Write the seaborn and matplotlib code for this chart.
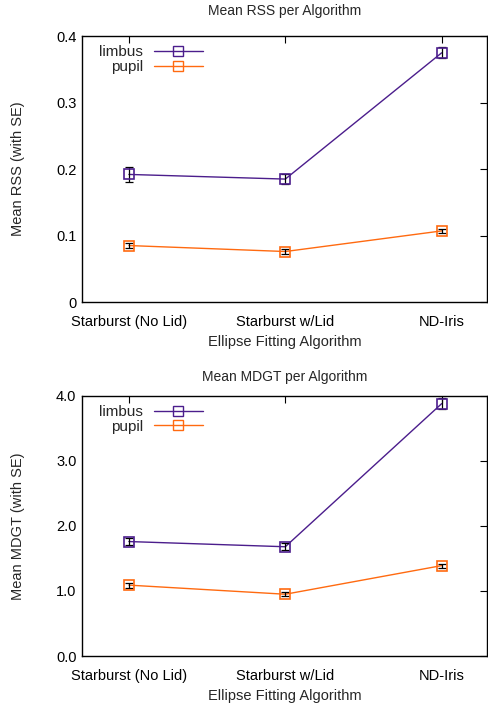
import numpy as np
import pandas as pd
import matplotlib
matplotlib.use("Agg")
import matplotlib.pyplot as plt
import seaborn as sns

# data
algorithms = ["Starburst (No Lid)", "Starburst w/Lid", "ND-Iris"]
series = ["limbus", "pupil"]

rss_limbus = [0.192, 0.185, 0.375]
rss_limbus_se = [0.011, 0.008, 0.008]
rss_pupil = [0.085, 0.076, 0.107]
rss_pupil_se = [0.004, 0.004, 0.003]

mdgt_limbus = [1.76, 1.68, 3.88]
mdgt_limbus_se = [0.05, 0.05, 0.08]
mdgt_pupil = [1.09, 0.95, 1.39]
mdgt_pupil_se = [0.04, 0.03, 0.03]

colors = {"limbus": "#4b1d8c", "pupil": "#ff6a10"}

sns.set_theme(style="white")
plt.rcParams["font.family"] = ["Liberation Sans", "DejaVu Sans"]
plt.rcParams["font.size"] = 10


def make_frame(limbus, limbus_se, pupil, pupil_se):
    rows = []
    for name, vals, ses in [("limbus", limbus, limbus_se), ("pupil", pupil, pupil_se)]:
        for i, alg in enumerate(algorithms):
            rows.append({"pos": i, "algorithm": alg, "series": name, "mean": vals[i], "se": ses[i]})
    return pd.DataFrame(rows)


def draw_panel(ax, df, title, ylabel, ymax, yfmt, title_pad):
    sns.lineplot(data=df, x="pos", y="mean", hue="series", palette=colors,
                 linewidth=1.0, ax=ax, legend=False)
    for name in series:
        sub = df[df["series"] == name]
        ax.errorbar(sub["pos"], sub["mean"], yerr=sub["se"], fmt="none",
                    ecolor="black", elinewidth=0.9, capsize=3, capthick=0.9, zorder=3)
        ax.plot(sub["pos"], sub["mean"], linestyle="none", marker="s", markersize=7,
                markerfacecolor="none", markeredgecolor=colors[name], markeredgewidth=1.2, zorder=4)
    # legend handles, gnuplot style: text then sample
    handles = [plt.Line2D([], [], color=colors[n], linewidth=1.0, marker="s", markersize=7,
                          markerfacecolor="none", markeredgewidth=1.0) for n in series]
    ax.legend(handles, series, loc="upper left", bbox_to_anchor=(0.02, 1.0), frameon=False,
              markerfirst=False, handlelength=3.2, handletextpad=0.7, labelspacing=0.05,
              fontsize=11, borderaxespad=0.2)

    ax.set_xlim(-0.3, 2.29)
    ax.set_ylim(0, ymax)
    ax.set_xticks(range(len(algorithms)))
    ax.set_xticklabels(algorithms)
    ticks = np.linspace(0, ymax, 5)
    ax.set_yticks(ticks)
    ax.set_yticklabels([yfmt(t) for t in ticks])
    ax.tick_params(direction="in", length=5, width=0.8, top=True, right=True,
                   labelsize=10.5, pad=4, colors="black")
    ax.tick_params(axis="x", pad=9)
    for sp in ax.spines.values():
        sp.set_color("black")
        sp.set_linewidth(1.0)
    ax.set_title(title, fontsize=10, pad=title_pad)
    ax.set_xlabel("Ellipse Fitting Algorithm", fontsize=10.5, labelpad=5)
    ax.set_ylabel(ylabel, fontsize=10.5, labelpad=22)


fig = plt.figure(figsize=(4.88, 7.07), dpi=100)
ax1 = fig.add_axes([0.168, 0.5728, 0.830, 0.376])
ax2 = fig.add_axes([0.168, 0.0721, 0.830, 0.368])

df_rss = make_frame(rss_limbus, rss_limbus_se, rss_pupil, rss_pupil_se)
df_mdgt = make_frame(mdgt_limbus, mdgt_limbus_se, mdgt_pupil, mdgt_pupil_se)

draw_panel(ax1, df_rss, "Mean RSS per Algorithm", "Mean RSS (with SE)", 0.4,
           lambda t: "0" if t == 0 else f"{t:.1f}", 15)
draw_panel(ax2, df_mdgt, "Mean MDGT per Algorithm", "Mean MDGT (with SE)", 4.0,
           lambda t: f"{t:.1f}", 11)

fig.savefig("out.png", dpi=100)
